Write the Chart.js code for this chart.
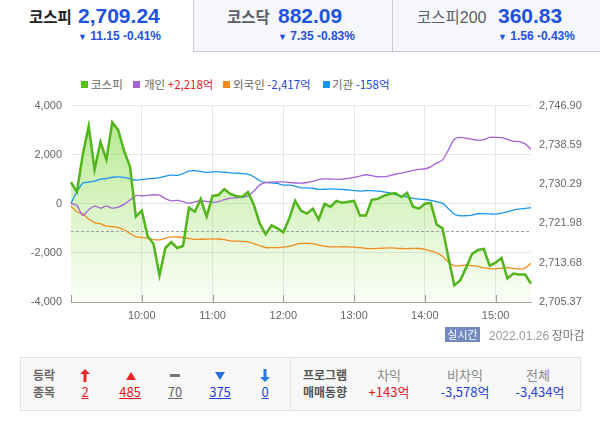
<!DOCTYPE html>
<html><head><meta charset="utf-8">
<script src="https://cdn.jsdelivr.net/npm/chart.js@4/dist/chart.umd.min.js"></script>
<style>
html,body{margin:0;padding:0;background:#fff;}
body{width:600px;height:424px;position:relative;overflow:hidden;font-family:"Noto Sans CJK KR","Noto Sans",sans-serif;}
.a{position:absolute;white-space:nowrap;}
.num{font-family:"Liberation Sans",Arial,sans-serif;}
.tab{position:absolute;top:0;height:51px;background:#f6f7fa;border-left:1px solid #c9ccd4;border-bottom:1px solid #c9ccd4;}
.sq{position:absolute;width:7px;height:7px;top:81px;}
.lg{position:absolute;top:76px;font-size:11.5px;line-height:16px;color:#666;white-space:nowrap;}
.ic{position:absolute;}
.u{text-decoration:underline;}
</style></head>
<body>
<!-- tabs -->
<div class="tab" style="left:193px;width:198px;"></div>
<div class="tab" style="left:392px;width:208px;"></div>
<div class="a" style="left:29px;top:5px;font-size:15.5px;font-weight:bold;color:#222;line-height:22px;">코스피</div>
<div class="a num" style="left:78px;top:5px;font-size:21px;font-weight:bold;color:#1f52e0;line-height:22px;">2,709.24</div>
<div class="a num" style="left:78px;top:29px;font-size:12px;font-weight:bold;color:#1f52e0;line-height:14px;"><span style="font-size:9px;">▼</span> 11.15 -0.41%</div>

<div class="a" style="left:227px;top:5px;font-size:15.5px;font-weight:bold;color:#5a5e6b;line-height:22px;">코스닥</div>
<div class="a num" style="left:278px;top:5px;font-size:21px;font-weight:bold;color:#1f52e0;line-height:22px;">882.09</div>
<div class="a num" style="left:278px;top:29px;font-size:12px;font-weight:bold;color:#1f52e0;line-height:14px;"><span style="font-size:9px;">▼</span> 7.35 -0.83%</div>

<div class="a" style="left:417px;top:5px;font-size:15.5px;color:#5a5e6b;line-height:22px;">코스피<span class="num" style="font-size:16px;">200</span></div>
<div class="a num" style="left:498px;top:5px;font-size:21px;font-weight:bold;color:#1f52e0;line-height:22px;">360.83</div>
<div class="a num" style="left:498px;top:29px;font-size:12px;font-weight:bold;color:#1f52e0;line-height:14px;"><span style="font-size:9px;">▼</span> 1.56 -0.43%</div>

<!-- legend -->
<div class="sq" style="left:81px;background:#54c212;"></div>
<div class="lg" style="left:91px;">코스피</div>
<div class="sq" style="left:133px;background:#a463d6;"></div>
<div class="lg" style="left:144px;">개인 <span style="color:#e8141e;">+2,218억</span></div>
<div class="sq" style="left:223px;background:#f28c1c;"></div>
<div class="lg" style="left:233px;">외국인 <span style="color:#1f3fe0;">-2,417억</span></div>
<div class="sq" style="left:323px;background:#1a96f0;"></div>
<div class="lg" style="left:332px;">기관 <span style="color:#1f3fe0;">-158억</span></div>

<canvas id="c" width="600" height="240" style="position:absolute;left:0;top:90px;width:600px;height:240px;"></canvas>

<!-- status -->
<div class="a" style="left:445px;top:327px;width:35px;height:15px;background:#7488c2;color:#fff;font-size:11px;line-height:15px;text-align:center;">실시간</div>
<div class="a" style="left:489px;top:326px;font-size:12px;line-height:17px;color:#9a9a9a;"><span class="num">2022.01.26</span> <span style="color:#777;">장마감</span></div>

<!-- bottom box -->
<div class="a" style="left:20px;top:357px;width:559px;height:52px;background:#f8f8f8;border:1px solid #e3e3e3;"></div>
<div class="a" style="left:290px;top:358px;width:1px;height:52px;background:#e3e3e3;"></div>
<div class="a" style="left:30px;top:366px;width:28px;text-align:center;font-size:12px;font-weight:bold;color:#666;line-height:18px;">등락</div>
<div class="a" style="left:30px;top:383px;width:28px;text-align:center;font-size:12px;font-weight:bold;color:#666;line-height:18px;">종목</div>

<svg class="ic" style="left:80px;top:369px;" width="10" height="13" viewBox="0 0 10 13"><path d="M5 0 L10 5 L6.5 5 L6.5 13 L3.5 13 L3.5 5 L0 5 Z" fill="#e82424"/></svg>
<svg class="ic" style="left:126px;top:372px;" width="10" height="8" viewBox="0 0 10 8"><path d="M5 0 L10 8 L0 8 Z" fill="#e82424"/></svg>
<svg class="ic" style="left:170px;top:374px;" width="10" height="4" viewBox="0 0 10 4"><rect x="0" y="0" width="10" height="3" fill="#777"/></svg>
<svg class="ic" style="left:215px;top:372px;" width="10" height="8" viewBox="0 0 10 8"><path d="M0 0 L10 0 L5 8 Z" fill="#2a6ee0"/></svg>
<svg class="ic" style="left:260px;top:369px;" width="10" height="13" viewBox="0 0 10 13"><path d="M3.5 0 L6.5 0 L6.5 8 L10 8 L5 13 L0 8 L3.5 8 Z" fill="#2a7ae2"/></svg>

<div class="a u" style="left:70px;top:383px;width:30px;text-align:center;font-size:13px;line-height:18px;color:#e8141e;">2</div>
<div class="a u" style="left:115px;top:383px;width:30px;text-align:center;font-size:13px;line-height:18px;color:#e8141e;">485</div>
<div class="a u" style="left:160px;top:383px;width:30px;text-align:center;font-size:13px;line-height:18px;color:#666;">70</div>
<div class="a u" style="left:205px;top:383px;width:30px;text-align:center;font-size:13px;line-height:18px;color:#1f3fe0;">375</div>
<div class="a u" style="left:250px;top:383px;width:30px;text-align:center;font-size:13px;line-height:18px;color:#1f3fe0;">0</div>

<div class="a" style="left:300px;top:366px;width:50px;text-align:center;font-size:12px;font-weight:bold;color:#555;line-height:18px;">프로그램</div>
<div class="a" style="left:300px;top:383px;width:50px;text-align:center;font-size:12px;font-weight:bold;color:#555;line-height:18px;">매매동향</div>

<div class="a" style="left:359px;top:366px;width:60px;text-align:center;font-size:13px;color:#888;line-height:18px;">차익</div>
<div class="a" style="left:359px;top:383px;width:60px;text-align:center;font-size:13px;color:#e8141e;line-height:18px;">+143억</div>
<div class="a" style="left:435px;top:366px;width:60px;text-align:center;font-size:13px;color:#888;line-height:18px;">비차익</div>
<div class="a" style="left:435px;top:383px;width:60px;text-align:center;font-size:13px;color:#1f3fe0;line-height:18px;">-3,578억</div>
<div class="a" style="left:508px;top:366px;width:60px;text-align:center;font-size:13px;color:#888;line-height:18px;">전체</div>
<div class="a" style="left:510px;top:383px;width:60px;text-align:center;font-size:13px;color:#1f3fe0;line-height:18px;">-3,434억</div>

<script>
const timeLabels = ["09:00","09:05","09:10","09:15","09:20","09:25","09:30","09:35","09:40","09:45","09:50","09:55",
"10:00","10:05","10:10","10:15","10:20","10:25","10:30","10:35","10:40","10:45","10:50","10:55",
"11:00","11:05","11:10","11:15","11:20","11:25","11:30","11:35","11:40","11:45","11:50","11:55",
"12:00","12:05","12:10","12:15","12:20","12:25","12:30","12:35","12:40","12:45","12:50","12:55",
"13:00","13:05","13:10","13:15","13:20","13:25","13:30","13:35","13:40","13:45","13:50","13:55",
"14:00","14:05","14:10","14:15","14:20","14:25","14:30","14:35","14:40","14:45","14:50","14:55",
"15:00","15:05","15:10","15:15","15:20","15:25","15:30"];

const kospi = [2730.70,2728.63,2736.52,2742.54,2733.40,2739.22,2735.48,2743.37,2741.71,2737.35,
2734.03,2723.44,2724.68,2719.28,2717.62,2710.98,2716.79,2718.04,2716.79,2717.21,
2725.30,2724.47,2727.17,2723.44,2727.80,2728.00,2729.25,2728.21,2727.80,2727.59,
2728.63,2725.93,2721.98,2719.70,2721.57,2720.94,2720.11,2723.02,2726.76,2724.68,
2724.06,2725.10,2722.81,2726.14,2725.51,2726.76,2726.34,2726.55,2726.76,2723.64,
2723.64,2726.97,2727.17,2727.80,2728.21,2728.42,2727.59,2728.42,2725.51,2725.10,
2726.14,2726.34,2721.77,2720.94,2714.71,2708.90,2709.94,2712.64,2715.54,2716.38,
2716.58,2713.05,2713.68,2714.71,2710.35,2711.39,2711.18,2711.18,2709.24];

const individual = [20,-72,-468,-245,-92,-173,-97,-176,-138,-25,
152,334,327,343,368,350,209,120,140,86,
20,78,125,92,67,89,166,228,246,267,
322,511,771,866,880,888,896,867,848,842,
868,912,989,1012,1009,998,1002,1038,1072,1131,
1183,1145,1101,1103,1146,1204,1254,1305,1357,1404,
1428,1507,1658,1791,2193,2632,2709,2670,2628,2595,
2616,2702,2708,2694,2627,2547,2536,2440,2218];

const foreigner = [-88,-322,-412,-621,-765,-821,-907,-928,-974,-1058,
-1208,-1341,-1371,-1409,-1457,-1469,-1409,-1351,-1352,-1372,
-1409,-1451,-1444,-1442,-1427,-1433,-1463,-1508,-1520,-1530,
-1552,-1618,-1703,-1782,-1788,-1784,-1768,-1738,-1669,-1612,
-1612,-1624,-1681,-1733,-1755,-1751,-1749,-1754,-1767,-1789,
-1812,-1822,-1816,-1804,-1796,-1804,-1821,-1823,-1818,-1821,
-1853,-1921,-1996,-2136,-2375,-2531,-2515,-2498,-2517,-2549,
-2609,-2635,-2652,-2619,-2594,-2635,-2663,-2620,-2417];

const institution = [20,490,842,882,919,1009,1026,1081,1099,1072,
1021,961,991,1016,1032,1064,1122,1164,1160,1230,
1333,1353,1321,1281,1297,1309,1285,1261,1247,1231,
1208,1104,939,869,849,829,760,759,716,652,
647,633,591,593,609,597,585,569,539,518,
534,537,517,489,446,376,312,276,225,187,
175,136,80,16,-202,-425,-487,-485,-459,-405,
-400,-412,-420,-379,-328,-257,-217,-187,-158];

const leftTicks = [-4000,-2000,0,2000,4000];
const rightTicks = [2705.37,2713.68,2721.98,2730.29,2738.59,2746.90];
const prevClose = 2720.39;

const tickFont = {family:'"Liberation Sans Narrow","Liberation Sans",Arial,sans-serif', size:11};
const isHour = i => timeLabels[i] && timeLabels[i].endsWith(':00');

const overlay = {
  id:'overlay',
  beforeDatasetsDraw(chart){
    const {ctx, chartArea:a, scales} = chart;
    const y = Math.round(scales.y2.getPixelForValue(prevClose)) + 0.5;
    ctx.save();
    ctx.strokeStyle = '#a0a0a0'; ctx.lineWidth = 1; ctx.setLineDash([3,2]);
    ctx.beginPath(); ctx.moveTo(a.left, y); ctx.lineTo(a.right, y); ctx.stroke();
    ctx.restore();
  },
  afterDatasetsDraw(chart){
    const {ctx, chartArea:a, scales} = chart;
    ctx.save();
    ctx.strokeStyle = '#9a9a9a'; ctx.lineWidth = 1;
    timeLabels.forEach((t,i)=>{
      if(!isHour(i)) return;
      const x = Math.round(scales.x.getPixelForValue(i)) + 0.5;
      ctx.beginPath(); ctx.moveTo(x, a.bottom); ctx.lineTo(x, a.bottom - 7); ctx.stroke();
    });
    ctx.restore();
  }
};

new Chart(document.getElementById('c'), {
  type:'line',
  data:{
    labels: timeLabels,
    datasets:[
      {label:'코스피', data:kospi, yAxisID:'y2', borderColor:'#52b51b', borderWidth:2.5, pointRadius:0, tension:0,
       fill:'start',
       backgroundColor:(c)=>{const {ctx, chartArea}=c.chart; if(!chartArea) return 'rgba(0,0,0,0)';
         const g=ctx.createLinearGradient(0,chartArea.top,0,chartArea.bottom);
         g.addColorStop(0,'rgba(120,215,50,0.6)'); g.addColorStop(1,'rgba(150,225,90,0.05)'); return g;}},
      {label:'개인', data:individual, yAxisID:'y', borderColor:'#a463d6', borderWidth:1.3, pointRadius:0, fill:false, tension:0.3},
      {label:'외국인', data:foreigner, yAxisID:'y', borderColor:'#f28c1c', borderWidth:1.3, pointRadius:0, fill:false, tension:0.3},
      {label:'기관', data:institution, yAxisID:'y', borderColor:'#1a96f0', borderWidth:1.3, pointRadius:0, fill:false, tension:0.3}
    ]
  },
  options:{
    responsive:false, animation:false,
    layout:{padding:{top:12,left:0,right:0,bottom:0}},
    plugins:{legend:{display:false}, tooltip:{enabled:false}, filler:{drawTime:'beforeDatasetsDraw'}},
    scales:{
      x:{
        offset:false,
        grid:{drawTicks:false, color:(c)=> (c.index>0 && isHour(c.index)) ? '#e6e6e6' : 'rgba(0,0,0,0)'},
        border:{display:true, color:'#a8a8a8'},
        ticks:{autoSkip:false, maxRotation:0, padding:7, color:'#666', font:tickFont,
          callback:(v,i)=> (i>0 && isHour(i)) ? timeLabels[i] : ''},
        afterFit:(s)=>{s.height=28;}
      },
      y:{
        position:'left', min:leftTicks[0], max:leftTicks[leftTicks.length-1],
        afterBuildTicks:(s)=>{s.ticks = leftTicks.map(v=>({value:v}));},
        grid:{drawTicks:false, color:'#e6e6e6'},
        border:{display:false},
        ticks:{padding:9, color:'#666', font:tickFont, callback:(v)=>Number(v).toLocaleString('en-US')},
        afterFit:(s)=>{s.width=71;}
      },
      y2:{
        position:'right', min:rightTicks[0], max:rightTicks[rightTicks.length-1],
        afterBuildTicks:(s)=>{s.ticks = rightTicks.map(v=>({value:v}));},
        grid:{display:false, drawTicks:false},
        border:{display:false},
        ticks:{padding:8, color:'#666', font:tickFont,
          callback:(v)=>Number(v).toLocaleString('en-US',{minimumFractionDigits:2, maximumFractionDigits:2})},
        afterFit:(s)=>{s.width=69;}
      }
    }
  },
  plugins:[overlay]
});
</script>
</body></html>
